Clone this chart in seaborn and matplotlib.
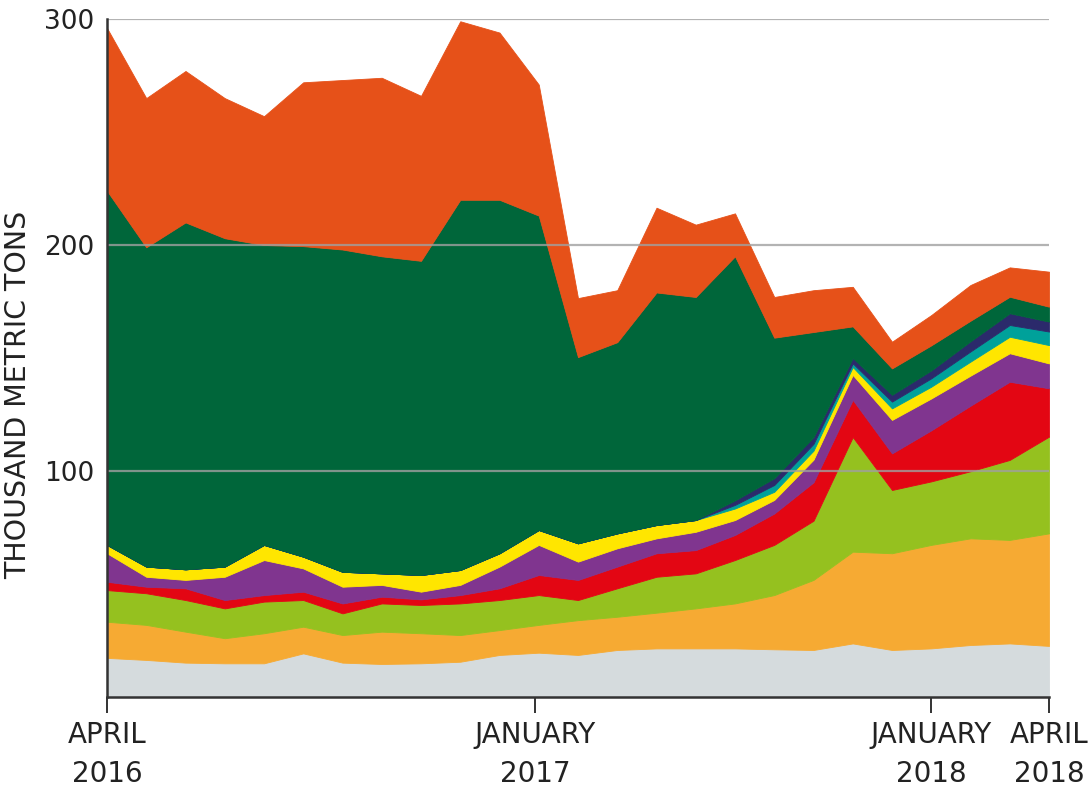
import matplotlib
matplotlib.use('Agg')
import matplotlib.pyplot as plt
import seaborn as sns
import numpy as np

# monthly points, April 2016 .. April 2018 (thousand metric tons, per layer)
months = list(range(25))

grey = [17.3, 16.4, 15.2, 14.9, 14.9, 19.3, 15.2, 14.6, 14.9, 15.6, 18.6, 19.6, 18.6,
        20.8, 21.5, 21.5, 21.5, 21.1, 20.8, 23.7, 20.8, 21.5, 23.0, 23.7, 22.6]
orange = [16.0, 15.5, 13.7, 11.1, 13.3, 11.8, 12.2, 14.3, 13.3, 11.8, 11.0, 12.3, 15.4,
          14.7, 15.8, 17.7, 19.9, 24.0, 31.0, 40.6, 42.8, 45.8, 47.2, 45.8, 49.8]
lime = [14.0, 14.0, 14.0, 13.2, 14.0, 11.8, 9.6, 12.5, 12.5, 14.0, 13.3, 13.2, 8.9,
        12.6, 15.9, 15.5, 19.2, 22.2, 26.2, 50.7, 28.0, 28.1, 29.7, 35.4, 42.8]
red = [3.7, 2.9, 5.2, 3.7, 2.9, 3.7, 4.4, 3.0, 2.5, 3.7, 5.2, 8.9, 8.9,
       9.6, 10.4, 10.3, 11.1, 13.9, 17.0, 16.5, 16.2, 22.6, 29.0, 34.6, 21.4]
purple = [12.6, 4.4, 3.7, 10.3, 15.5, 10.3, 7.4, 5.2, 3.4, 4.5, 9.6, 13.3, 8.1,
          8.1, 6.6, 8.1, 6.6, 6.0, 10.0, 11.0, 14.8, 14.1, 13.3, 12.6, 11.0]
yellow = [3.7, 4.5, 4.7, 4.5, 6.7, 5.2, 6.6, 5.1, 7.4, 6.6, 5.9, 6.6, 8.1,
          6.6, 5.9, 5.2, 5.1, 3.6, 4.0, 3.5, 5.1, 5.2, 6.2, 7.3, 8.1]
teal = [0, 0, 0, 0, 0, 0, 0, 0, 0, 0, 0, 0, 0,
        0, 0, 0, 1.6, 3.0, 3.0, 1.6, 3.0, 3.7, 4.5, 5.2, 6.0]
navy = [0, 0, 0, 0, 0, 0, 0, 0, 0, 0, 0, 0, 0,
        0, 0, 0, 2.0, 3.0, 3.0, 2.4, 3.0, 3.5, 4.5, 5.2, 4.4]
dark_green = [156.7, 141.3, 153.5, 145.3, 132.7, 137.4, 142.6, 140.3, 139.0, 163.8, 156.4, 139.1, 82.4,
              84.6, 102.9, 98.7, 108.0, 62.2, 46.5, 14.0, 11.7, 11.1, 9.1, 7.3, 6.6]
orange_red = [72, 66, 67, 62, 57, 72.5, 75, 79, 73, 79, 74, 58, 26.1,
              23, 37.5, 32, 19, 18, 18.5, 17.5, 11.8, 13.4, 15.8, 13, 15.5]

layers = [grey, orange, lime, red, purple, yellow, teal, navy, dark_green, orange_red]
colors = ['#d5dbdd', '#f6aa33', '#95c11f', '#e30613', '#80358f',
          '#ffe600', '#00a19a', '#2b2a6b', '#00663a', '#e65119']

tick_pos = [0, 10.9, 21, 24]
tick_labels = ['APRIL\n2016', 'JANUARY\n2017', 'JANUARY\n2018', 'APRIL\n2018']
y_ticks = [100, 200, 300]

sns.set_theme(style='white')
plt.rcParams['font.family'] = ['DejaVu Sans']

fig = plt.figure(figsize=(10.89, 7.87), dpi=100)
ax = fig.add_axes([107 / 1089, 1 - 697 / 787, 942 / 1089, 678 / 787])

polys = ax.stackplot(months, *layers, colors=colors, zorder=1)
for p, c in zip(polys, colors):
    p.set_edgecolor(c)
    p.set_linewidth(0.6)

# grid lines drawn over the areas
for y in y_ticks:
    ax.axhline(y, color='#a0a0a0', lw=1.6, alpha=0.8, zorder=3)

ax.set_xlim(0, 24)
ax.set_ylim(0, 300)

for s in ['top', 'right']:
    ax.spines[s].set_visible(False)
for s in ['left', 'bottom']:
    ax.spines[s].set_color('#333333')
    ax.spines[s].set_linewidth(1.8)
    ax.spines[s].set_zorder(4)

ax.set_yticks(y_ticks)
ax.set_yticklabels([str(v) for v in y_ticks], fontsize=19, color='#222222')
ax.tick_params(axis='y', length=0, pad=9)

ax.set_xticks(tick_pos)
ax.set_xticklabels(tick_labels, fontsize=20, color='#222222', linespacing=1.5)
ax.tick_params(axis='x', direction='out', length=11.5, width=1.4, color='#333333', pad=6,
               bottom=True)

ax.set_ylabel('THOUSAND METRIC TONS', fontsize=20.5, color='#222222')
ax.yaxis.set_label_coords(-0.079, 0.445)

fig.savefig('out.png', dpi=100)
